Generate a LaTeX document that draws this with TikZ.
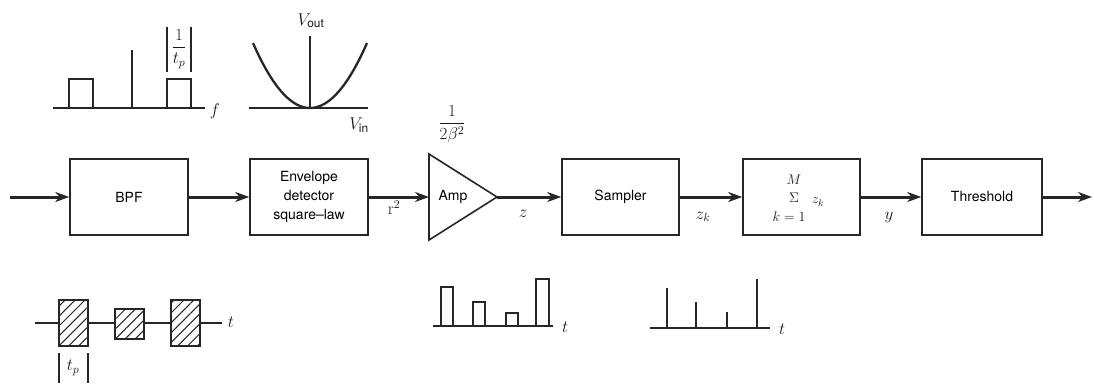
\RequirePackage{fix-cm}
\documentclass[tikz,border=0pt]{standalone}
\usepackage{amsmath}
\usepackage{fontspec}
\setsansfont{TeX Gyre Heros}
\usetikzlibrary{arrows.meta,patterns.meta}
\begin{document}
\begin{tikzpicture}[x=1pt,y=-1pt,
  blk/.style={draw=black!85, line width=1.6pt, minimum width=118pt, minimum height=76pt,
    inner sep=0pt, font=\sffamily\fontsize{14}{19}\selectfont, align=center},
  sig/.style={draw=black!85, line width=3pt, -{Stealth[length=14pt,width=10pt,inset=4.5pt]}},
  lbl/.style={font=\fontsize{17}{20}\selectfont, inner sep=0pt, text=black!90},
  slbl/.style={font=\fontsize{14}{17}\selectfont, inner sep=0pt, text=black!90},
  thin/.style={draw=black!85, line width=1.7pt},
  hatch/.style={thin, fill=white, postaction={pattern={Lines[angle=45,distance=7pt,line width=1pt]}, pattern color=black!85}},
  ]
\useasboundingbox (0,0) rectangle (1094,385);

% ---- main chain ----
\coordinate (in) at (10,197);
\node[blk] (bpf) at (129,197) {BPF};
\node[blk] (env) at (309,197) {Envelope\\detector\\square--law};
\coordinate (ampin) at (429,197);
\coordinate (amptip) at (497,197);
\draw[thin, line width=1.6pt] (429,154) -- (amptip) -- (429,240) -- cycle;
\node[font=\sffamily\fontsize{14}{19}\selectfont, inner sep=0pt] (amp) at (453,197) {Amp};
\node[lbl] (gain) at (452,124) {$\dfrac{1}{2\beta^{2}}$};
\node[blk, minimum width=117pt] (samp) at (620.5,197) {Sampler};
\node[blk, minimum width=117pt] (sum) at (801.5,197) {};
\node[slbl] (sM) at (794,180) {$M$};
\node[slbl] (sS) at (794,198) {$\Sigma$};
\node[slbl] (sz) at (818,202) {$z_k$};
\node[slbl] (sk) at (789,217) {$k=1$};
\node[blk, minimum width=120pt] (thr) at (982,197) {Threshold};
\coordinate (out) at (1092,197);

\draw[sig] (in) -- (bpf);
\draw[sig] (bpf) -- (env);
\draw[sig] (env) -- (ampin);
\draw[sig] (amptip) -- (samp);
\draw[sig] (samp) -- (sum);
\draw[sig] (sum) -- (thr);
\draw[sig] (thr) -- (out);

\node[lbl] (r2) at (394,208) {$\mathrm{r}^{2}$};
\node[lbl] (z) at (523,214) {$z$};
\node[lbl] (zk) at (703,217) {$z_k$};
\node[lbl] (y) at (889,217) {$y$};

% ---- top-left spectrum ----
\draw[thin] (53,108) -- (205,108);
\draw[thin] (69,108) -- (69,79) -- (93,79) -- (93,108);
\draw[thin, line width=1.3pt] (132,108) -- (132,50);
\draw[thin] (167,108) -- (167,79) -- (191,79) -- (191,108);
\draw[thin, line width=1.1pt] (167,27) -- (167,72);
\draw[thin, line width=1.1pt] (191,27) -- (191,72);
\node[lbl] (invtp) at (179,49) {$\dfrac{1}{t_p}$};
\node[lbl] (f) at (215,111) {$f$};

% ---- square-law curve ----
\draw[thin] (249,108) -- (368,108);
\draw[thin, line width=1.3pt] (310,36) -- (310,108);
\draw[draw=black!85, line width=2.3pt] plot[smooth, samples=41, domain=-57:57] ({310+\x},{108-65*(\x/57)^2});
\node[lbl] (vout) at (311,21) {$V_{\textsf{out}}$};
\node[lbl] (vin) at (359,125) {$V_{\textsf{in}}$};

% ---- bottom-left pulses ----
\draw[thin] (35,323) -- (222,323);
\draw[hatch] (59,300) rectangle (88,346);
\draw[hatch] (115,309) rectangle (144,339);
\draw[hatch] (171,300) rectangle (200,346);
\node[lbl] (t1) at (231,322) {$t$};
\draw[thin, line width=1.1pt] (59,353) -- (59,383);
\draw[thin, line width=1.1pt] (88,353) -- (88,383);
\node[lbl] (tp) at (73,368) {$t_p$};

% ---- bottom-middle pulses ----
\draw[thin] (433,326) -- (553,326);
\draw[thin] (441,326) -- (441,287) -- (453,287) -- (453,326);
\draw[thin] (473,326) -- (473,302) -- (485,302) -- (485,326);
\draw[thin] (506,326) -- (506,313) -- (518,313) -- (518,326);
\draw[thin] (536,326) -- (536,279) -- (549,279) -- (549,326);
\node[lbl] (t2) at (565,327) {$t$};

% ---- bottom-right samples ----
\draw[thin] (650,328) -- (770,328);
\draw[thin] (667,328) -- (667,288);
\draw[thin] (696,328) -- (696,302);
\draw[thin] (727,328) -- (727,312);
\draw[thin] (757,328) -- (757,279);
\node[lbl] (t3) at (782,329) {$t$};
\end{tikzpicture}
\end{document}
